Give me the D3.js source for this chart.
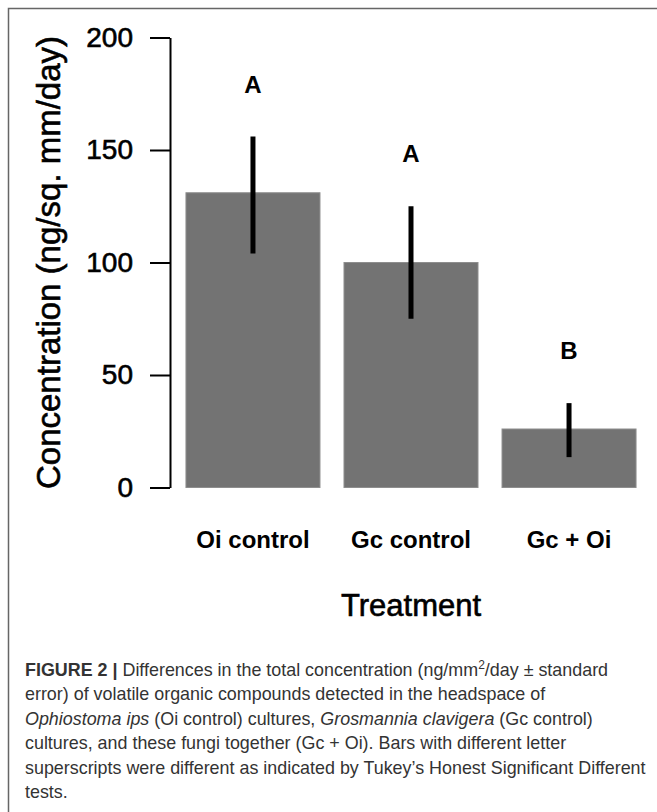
<!DOCTYPE html>
<html>
<head>
<meta charset="utf-8">
<script src="https://cdn.jsdelivr.net/npm/d3@7"></script>
<style>
  body { margin: 0; background: #fff; }
  svg { display: block; font-family: "Liberation Sans", Arial, sans-serif; }
</style>
</head>
<body>
<svg id="chart"></svg>
<script>
// values
var treatments = ["Oi control", "Gc control", "Gc + Oi"];
var means = [131, 100, 26];
var upper = [156, 125, 37.5];
var lower = [104, 75, 13.5];
var letters = ["A", "A", "B"];
var yTicks = [0, 50, 100, 150, 200];

var width = 657, height = 812;

var svg = d3.select("#chart")
    .attr("width", width)
    .attr("height", height);

// figure frame (runs off the right and bottom edges)
svg.append("rect")
    .attr("x", 8.5)
    .attr("y", 8.5)
    .attr("width", 800)
    .attr("height", 900)
    .attr("fill", "none")
    .attr("stroke", "#666")
    .attr("stroke-width", 1.5);

var y = d3.scaleLinear()
    .domain([0, 200])
    .range([487.5, 37.5]);

var x = d3.scaleBand()
    .domain(treatments)
    .range([170, 652])
    .paddingInner(0.152)
    .paddingOuter(0.101);

var rows = treatments.map((t, i) => ({
  name: t, mean: means[i], hi: upper[i], lo: lower[i], letter: letters[i]
}));

// bars
svg.append("g")
  .selectAll("rect")
  .data(rows)
  .enter()
    .append("rect")
    .attr("x", d => x(d.name))
    .attr("y", d => y(d.mean))
    .attr("width", x.bandwidth())
    .attr("height", d => y(0) - y(d.mean))
    .attr("fill", "#737373")
    .attr("stroke", "#8e8e8e")
    .attr("stroke-width", 1);

// error bars
svg.append("g")
  .selectAll("line")
  .data(rows)
  .enter()
    .append("line")
    .attr("x1", d => x(d.name) + x.bandwidth() / 2)
    .attr("x2", d => x(d.name) + x.bandwidth() / 2)
    .attr("y1", d => y(d.hi))
    .attr("y2", d => y(d.lo))
    .attr("stroke", "#000")
    .attr("stroke-width", 5);

// significance letters
svg.append("g")
  .selectAll("text")
  .data(rows)
  .enter()
    .append("text")
    .attr("x", d => x(d.name) + x.bandwidth() / 2)
    .attr("y", d => y(d.hi) - 44)
    .attr("text-anchor", "middle")
    .attr("font-size", 24)
    .attr("font-weight", "bold")
    .attr("fill", "#000")
    .text(d => d.letter);

// y axis
var yAxis = svg.append("g")
    .attr("transform", "translate(170,0)")
    .call(d3.axisLeft(y)
      .tickValues(yTicks)
      .tickSize(20)
      .tickSizeOuter(0)
      .tickPadding(17));

yAxis.select(".domain").attr("stroke", "#000").attr("stroke-width", 2);
yAxis.selectAll(".tick line").attr("stroke", "#000").attr("stroke-width", 2);
yAxis.selectAll(".tick text")
    .attr("font-size", 28)
    .attr("font-family", "Liberation Sans, Arial, sans-serif")
    .attr("fill", "#000")
    .attr("stroke", "#000")
    .attr("stroke-width", 0.6);

// category labels
svg.append("g")
  .selectAll("text")
  .data(treatments)
  .enter()
    .append("text")
    .attr("x", d => x(d) + x.bandwidth() / 2)
    .attr("y", 548)
    .attr("text-anchor", "middle")
    .attr("font-size", 24)
    .attr("font-weight", "bold")
    .attr("fill", "#000")
    .text(d => d);

// axis titles
svg.append("text")
    .attr("x", (170 + 652) / 2)
    .attr("y", 616)
    .attr("text-anchor", "middle")
    .attr("font-size", 31)
    .attr("fill", "#000")
    .attr("stroke", "#000")
    .attr("stroke-width", 0.6)
    .text("Treatment");

svg.append("text")
    .attr("transform", "translate(60," + (y(0) + y(200)) / 2 + ") rotate(-90)")
    .attr("text-anchor", "middle")
    .attr("font-size", 33)
    .attr("fill", "#000")
    .attr("stroke", "#000")
    .attr("stroke-width", 0.6)
    .text("Concentration (ng/sq. mm/day)");

// caption
var captionLines = [
  [{t: "FIGURE 2 |", b: true}, {t: " Differences in the total concentration (ng/mm"}, {t: "2", sup: true}, {t: "/day \u00b1 standard"}],
  [{t: "error) of volatile organic compounds detected in the headspace of"}],
  [{t: "Ophiostoma ips", i: true}, {t: " (Oi control) cultures, "}, {t: "Grosmannia clavigera", i: true}, {t: " (Gc control)"}],
  [{t: "cultures, and these fungi together (Gc + Oi). Bars with different letter"}],
  [{t: "superscripts were different as indicated by Tukey\u2019s Honest Significant Different"}],
  [{t: "tests."}]
];

var caption = svg.append("g")
    .attr("font-size", 17.9)
    .attr("fill", "#333");

captionLines.forEach(function(line, i) {
  var txt = caption.append("text")
      .attr("x", 25)
      .attr("y", 676 + i * 24.4);
  var shifted = false;
  line.forEach(function(seg) {
    var ts = txt.append("tspan").text(seg.t);
    if (seg.b) ts.attr("font-weight", "bold");
    if (seg.i) ts.attr("font-style", "italic");
    if (seg.sup) {
      ts.attr("font-size", 12).attr("dy", -7);
      shifted = true;
    } else if (shifted) {
      ts.attr("dy", 7);
      shifted = false;
    }
  });
});
</script>
</body>
</html>
